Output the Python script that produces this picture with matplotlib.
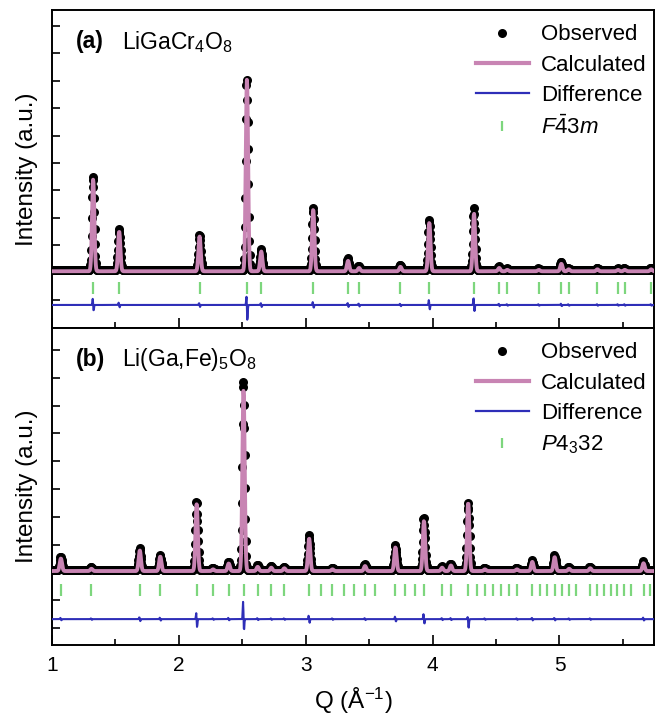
import numpy as np
import matplotlib
matplotlib.use("Agg")
import matplotlib.pyplot as plt
from matplotlib.lines import Line2D

plt.rcParams["font.family"] = ["Liberation Sans", "DejaVu Sans"]
plt.rcParams["mathtext.fontset"] = "custom"
plt.rcParams["mathtext.rm"] = "Liberation Sans"
plt.rcParams["mathtext.it"] = "Liberation Sans:italic"
plt.rcParams["mathtext.bf"] = "Liberation Sans:bold"

# colours
c_obs = "black"
c_calc = "#C884B3"
c_diff = "#2E2EB8"
c_tick = "#7DD67D"

# ---- panel (a) LiGaCr4O8, F-43m ----
# peak positions (Q, 1/A) and calculated heights above background
peaks_a = [1.3247, 1.5296, 2.1632, 2.5366, 2.6494, 3.0592, 3.3337, 3.4203, 3.7467,
           3.9741, 4.3263, 4.5247, 4.5888, 4.8369, 5.0148, 5.0728, 5.2989, 5.4616,
           5.5146, 5.7230]
heights_a = [3.35, 1.45, 1.27, 7.0, 0.72, 2.25, 0.38, 0.12, 0.16,
             1.77, 2.1, 0.12, 0.05, 0.05, 0.27, 0.07, 0.07, 0.05,
             0.05, 0.07]
# difference spikes (up, down) at each peak
diff_up_a = [0.25, 0.1, 0.08, 0.36, 0.08, 0.12, 0.08, 0.06, 0.05,
             0.2, 0.3, 0.05, 0.03, 0.03, 0.05, 0.03, 0.03, 0.03,
             0.03, 0.03]
diff_dn_a = [0.25, 0.1, 0.08, 0.62, 0.08, 0.12, 0.08, 0.06, 0.05,
             0.2, 0.25, 0.05, 0.03, 0.03, 0.05, 0.03, 0.03, 0.03,
             0.03, 0.03]
bragg_a = peaks_a
bg_a = 1.05
diffbase_a = -0.18
tickpos_a = 0.44

# ---- panel (b) Li(Ga,Fe)5O8, P4_332 ----
peaks_b = [1.0701, 1.3107, 1.6920, 1.8535, 2.1403, 2.2701, 2.3929, 2.5097, 2.6213,
           2.7283, 2.8313, 3.0268, 3.2104, 3.4676, 3.7071, 3.9319, 4.0750, 4.1446,
           4.2805, 4.4123, 4.6646, 4.7858, 4.9620, 5.0761, 5.2426, 5.6626]
heights_b = [0.45, 0.08, 0.74, 0.52, 2.4, 0.06, 0.27, 6.5, 0.15,
             0.12, 0.1, 1.17, 0.06, 0.18, 0.85, 1.8, 0.12, 0.2,
             2.45, 0.06, 0.06, 0.33, 0.5, 0.08, 0.1, 0.28]
diff_up_b = [0.05, 0.03, 0.08, 0.06, 0.25, 0.03, 0.05, 0.68, 0.04,
             0.03, 0.03, 0.15, 0.03, 0.04, 0.1, 0.2, 0.04, 0.04,
             0.1, 0.03, 0.03, 0.05, 0.05, 0.03, 0.03, 0.06]
diff_dn_b = [0.05, 0.03, 0.08, 0.06, 0.32, 0.03, 0.05, 0.5, 0.04,
             0.03, 0.03, 0.15, 0.03, 0.04, 0.1, 0.2, 0.04, 0.04,
             0.35, 0.03, 0.03, 0.05, 0.05, 0.03, 0.03, 0.06]
bragg_b = [1.0701, 1.3107, 1.6920, 1.8535, 2.1403, 2.2701, 2.3929, 2.5097, 2.6213,
           2.7283, 2.8313, 3.0268, 3.1200, 3.2104, 3.2984, 3.3841, 3.4676, 3.5493,
           3.7071, 3.7835, 3.8584, 3.9319, 4.0750, 4.1446, 4.2805, 4.3469, 4.4123,
           4.4767, 4.5402, 4.6028, 4.6646, 4.7858, 4.8452, 4.9040, 4.9620, 5.0194,
           5.0761, 5.1322, 5.2426, 5.2969, 5.3507, 5.4039, 5.4566, 5.5089, 5.5606,
           5.6626, 5.7130]
bg_b = 2.05
diffbase_b = 0.32
tickpos_b = 1.37

q = np.arange(1.0, 5.76, 0.003)
sig = 0.009


def profile(peaks, heights, up, dn, bg):
    calc = np.full_like(q, bg)
    spikes = np.zeros_like(q)
    for c, h, u, d in zip(peaks, heights, up, dn):
        calc += h * np.exp(-0.5 * ((q - c) / sig) ** 2)
        spikes += u * np.exp(-0.5 * ((q - c + 0.003) / 0.003) ** 2)
        spikes -= d * np.exp(-0.5 * ((q - c - 0.003) / 0.003) ** 2)
    obs = calc + spikes + 0.04
    return obs, calc, spikes


fig = plt.figure(figsize=(6.55, 7.17), dpi=100)
ax1 = fig.add_axes([52 / 655, 1 - 328 / 717, 602 / 655, 318 / 717])
ax2 = fig.add_axes([52 / 655, 1 - 645 / 717, 602 / 655, 317 / 717])

panels = [
    (ax1, peaks_a, heights_a, diff_up_a, diff_dn_a, bg_a, diffbase_a, bragg_a, tickpos_a,
     (-1.02, 10.58), "(a)", r"LiGaCr$_4$O$_8$", r"$\mathit{F\bar{4}3m}$"),
    (ax2, peaks_b, heights_b, diff_up_b, diff_dn_b, bg_b, diffbase_b, bragg_b, tickpos_b,
     (-0.61, 10.79), "(b)", r"Li(Ga,Fe)$_5$O$_8$", r"$\mathit{P4_{3}32}$"),
]

for ax, pk, hh, up, dn, bg, dbase, bragg, tpos, ylim, lab, formula, sg in panels:
    obs, calc, spikes = profile(pk, hh, up, dn, bg)
    ax.plot(q, obs, "o", color=c_obs, ms=6.5, mew=0, zorder=2)
    ax.plot(q, calc, "-", color=c_calc, lw=2.8, zorder=3)
    ax.plot(q, dbase + spikes, "-", color=c_diff, lw=1.5, zorder=3)
    ax.plot(bragg, [tpos] * len(bragg), "|", color=c_tick, ms=8.6, mew=1.6, zorder=3)

    ax.set_xlim(1.0, 5.745)
    ax.set_ylim(*ylim)
    ax.set_xticks([1, 2, 3, 4, 5])
    ax.set_xticks(np.arange(1.5, 5.75, 1.0), minor=True)
    ax.set_yticks(np.arange(0, 11, 1))
    ax.tick_params(axis="both", which="both", direction="in", top=False, right=False,
                   labelleft=False, width=1.2, labelsize=15, pad=8)
    ax.tick_params(axis="x", which="major", length=7.5)
    ax.tick_params(axis="x", which="minor", length=4.5)
    ax.tick_params(axis="y", which="major", length=5.8)
    for s in ax.spines.values():
        s.set_linewidth(1.4)
    ax.set_ylabel("Intensity (a.u.)", fontsize=17.5, labelpad=10)

    ax.text(0.04, 0.90, lab, transform=ax.transAxes, fontsize=16.5, fontweight="bold",
            va="center", ha="left")
    ax.text(0.117, 0.90, formula, transform=ax.transAxes, fontsize=16.5,
            va="center", ha="left")

    handles = [
        Line2D([], [], ls="none", marker="o", ms=6.5, color=c_obs, mew=0),
        Line2D([], [], color=c_calc, lw=3),
        Line2D([], [], color=c_diff, lw=1.6),
        Line2D([], [], ls="none", marker="|", ms=7, mew=1.6, color=c_tick),
    ]
    ax.legend(handles, ["Observed", "Calculated", "Difference", sg], loc="upper right",
              bbox_to_anchor=(1.012, 1.0),
              frameon=False, fontsize=16, handlelength=2.4, handletextpad=0.55,
              labelspacing=0.42, borderaxespad=0.45, borderpad=0.2, numpoints=1)

ax1.tick_params(axis="x", labelbottom=False)
ax2.set_xlabel(r"Q (Å$^{-1}$)", fontsize=17.5, labelpad=8)

fig.savefig("out.png", dpi=100)
